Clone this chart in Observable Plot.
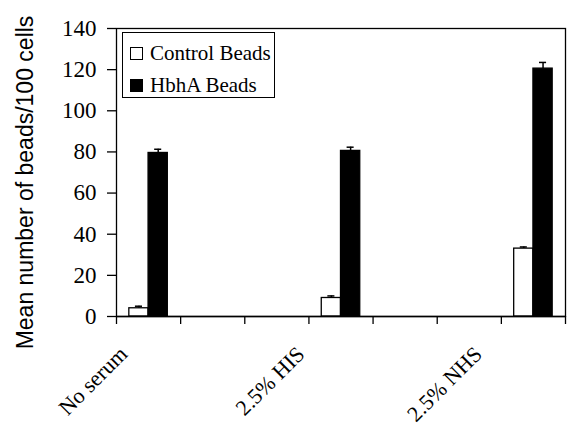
<!DOCTYPE html>
<html>
<head>
<meta charset="utf-8">
<script src="https://cdn.jsdelivr.net/npm/d3@7"></script>
<script src="https://cdn.jsdelivr.net/npm/@observablehq/plot@0.6"></script>
<style>
  body { margin: 0; background: #fff; }
  #wrap { position: relative; width: 567px; height: 427px; }
  #legend { position: absolute; left: 122px; top: 32px; width: 153px; height: 66px;
    border: 1px solid #000; background: #fff; font-family: "Liberation Serif", "Times New Roman", serif;
    font-size: 21px; color: #000; box-sizing: border-box; }
  .row { position: absolute; left: 7px; display: flex; align-items: center; height: 24px; }
  .sw { width: 13px; height: 13px; border: 1px solid #000; box-sizing: border-box; margin-right: 7px; }
</style>
</head>
<body>
<div id="wrap"></div>
<script>
// Category slots along the x axis (blank slots are empty categories)
const categories = ["No serum", "", "", "2.5% HIS", "", "", "2.5% NHS"];
const series = ["Control Beads", "HbhA Beads"];
const controlMean = [4, null, null, 9, null, null, 33];
const controlErr  = [1, null, null, 1, null, null, 0.8];
const hbhaMean    = [79.5, null, null, 80.5, null, null, 120.5];
const hbhaErr     = [1.8, null, null, 1.8, null, null, 3];
const yTicks = [0, 20, 40, 60, 80, 100, 120, 140];
const colors = ["#ffffff", "#000000"];

const rows = [];
categories.forEach((c, i) => {
  if (controlMean[i] != null) rows.push({i, s: 0, series: series[0], value: controlMean[i], err: controlErr[i]});
  if (hbhaMean[i] != null) rows.push({i, s: 1, series: series[1], value: hbhaMean[i], err: hbhaErr[i]});
});

const barW = 0.3, groupStart = 0.2;
const x1 = d => d.i + groupStart + d.s * barW;
const x2 = d => d.i + groupStart + (d.s + 1) * barW;
const xc = d => d.i + groupStart + (d.s + 0.5) * barW;
const capHalf = 0.055;

// label horizontal shifts (layout styling, px) matching the reference's skewed label placement
const labelShift = [-25, 0, 0, -40, 0, 0, -55];
const labelAxes = categories.map((c, i) => c ? Plot.axisX({
  ticks: [i + 0.5], tickFormat: () => c, tickSize: 0, tickPadding: 34, dx: labelShift[i],
  tickRotate: -45, label: null, fontFamily: "Liberation Serif", fontSize: 22
}) : null).filter(Boolean);

const chart = Plot.plot({
  width: 567,
  height: 427,
  marginLeft: 116,
  marginRight: 2,
  marginTop: 28,
  marginBottom: 111,
  x: {type: "linear", domain: [0, categories.length]},
  y: {domain: [0, 140]},
  style: {background: "transparent", color: "#000"},
  marks: [
    Plot.frame({stroke: "#000", strokeWidth: 1.3}),
    Plot.axisY({ticks: yTicks, tickSize: 9, tickPadding: 11, label: null,
      fontFamily: "Liberation Serif", fontSize: 23, strokeWidth: 1.3}),
    Plot.axisX({ticks: d3.range(categories.length + 1), tickFormat: () => "", tickSize: 8, label: null, strokeWidth: 1.3}),
    ...labelAxes,
    Plot.text(["Mean number of beads/100 cells"], {frameAnchor: "left", textAnchor: "middle", lineAnchor: "middle",
      rotate: -90, dx: -91, dy: 10, fontFamily: "Liberation Sans", fontSize: 23, fill: "#000"}),
    Plot.ruleX(rows, {x: xc, y1: "value", y2: d => d.value + d.err, stroke: "#000", strokeWidth: 1.5}),
    Plot.ruleY(rows, {x1: d => xc(d) - capHalf, x2: d => xc(d) + capHalf, y: d => d.value + d.err, stroke: "#000", strokeWidth: 1.5}),
    Plot.rectY(rows, {x1, x2, y1: 0, y2: "value", fill: d => colors[d.s], stroke: "#000", strokeWidth: 1.3}),
    Plot.ruleY([0], {stroke: "#000", strokeWidth: 1.3})
  ]
});

const wrap = document.getElementById("wrap");
wrap.appendChild(chart);
const legend = document.createElement("div");
legend.id = "legend";
series.forEach((s, k) => {
  const row = document.createElement("div");
  row.className = "row";
  row.style.top = (k === 0 ? 8 : 40) + "px";
  const sw = document.createElement("div");
  sw.className = "sw";
  sw.style.background = colors[k];
  row.appendChild(sw);
  const t = document.createElement("span");
  t.textContent = s;
  row.appendChild(t);
  legend.appendChild(row);
});
wrap.appendChild(legend);
</script>
</body>
</html>
